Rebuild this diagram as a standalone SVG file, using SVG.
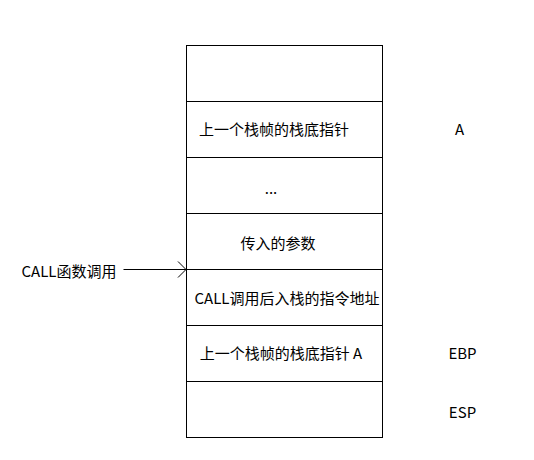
<svg xmlns="http://www.w3.org/2000/svg" width="534" height="460" viewBox="0 0 534 460">
<style>
.t{font-family:"Noto Sans CJK SC","Liberation Sans",sans-serif;font-size:15px;fill:#000;text-anchor:middle}
.cell{fill:#fff;stroke:#000;stroke-width:1}
.ln{fill:none;stroke:#000;stroke-width:1}
</style>
<rect width="534" height="460" fill="#fff"/>
<g id="stack">
<g id="row1"><rect class="cell" x="186.5" y="45.5" width="196" height="56"/></g>
<g id="row2"><rect class="cell" x="186.5" y="101.5" width="196" height="56"/><text class="t" x="274" y="134.5">上一个栈帧的栈底指针</text></g>
<g id="row3"><rect class="cell" x="186.5" y="157.5" width="196" height="56"/><text class="t" x="271" y="194">...</text></g>
<g id="row4"><rect class="cell" x="186.5" y="213.5" width="196" height="56"/><text class="t" x="278" y="248.5">传入的参数</text></g>
<g id="row5"><rect class="cell" x="186.5" y="269.5" width="196" height="56"/><text class="t" x="287" y="304">CALL调用后入栈的指令地址</text></g>
<g id="row6"><rect class="cell" x="186.5" y="325.5" width="196" height="56"/><text class="t" x="281" y="359">上一个栈帧的栈底指针 A</text></g>
<g id="row7"><rect class="cell" x="186.5" y="381.5" width="196" height="56"/></g>
</g>
<g id="label-call"><text class="t" x="69" y="277">CALL函数调用</text></g>
<g id="label-a"><text class="t" x="459.5" y="135">A</text></g>
<g id="label-ebp"><text class="t" x="462.5" y="358.5">EBP</text></g>
<g id="label-esp"><text class="t" x="462.5" y="418">ESP</text></g>
<g id="connectors">
<path class="ln" d="M123.5 269.5H186"/>
<path class="ln" d="M178 261.5L186 269.5L178 277.5"/>
</g>
</svg>
